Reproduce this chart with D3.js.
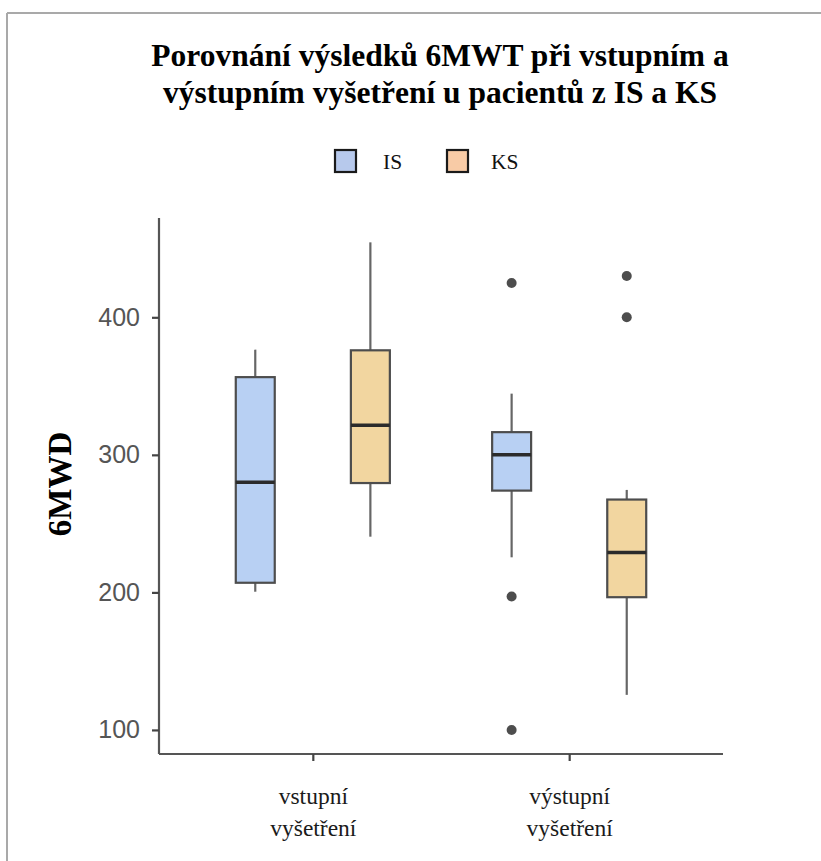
<!DOCTYPE html>
<html>
<head>
<meta charset="utf-8">
<script src="https://cdn.jsdelivr.net/npm/d3@7"></script>
<style>
  html, body { margin: 0; padding: 0; background: #fff; }
  svg { display: block; }
</style>
</head>
<body>
<svg id="chart" width="821" height="861"></svg>
<script>
// ---- Data ----
const categories = ["vstupní vyšetření", "výstupní vyšetření"];
const categoryLines = [["vstupní", "vyšetření"], ["výstupní", "vyšetření"]];
const groups = ["IS", "KS"];

// IS box statistics per category
const isLow  = [200.5, 225.5];
const isQ1   = [207,   274];
const isMed  = [280,   300];
const isQ3   = [356.5, 316.5];
const isHigh = [376.5, 344.5];
const isOutliers = [[], [425, 197, 100]];

// KS box statistics per category
const ksLow  = [240.5, 125.5];
const ksQ1   = [279.5, 196.5];
const ksMed  = [321.5, 229];
const ksQ3   = [376,   267.5];
const ksHigh = [454.5, 274.5];
const ksOutliers = [[], [430, 400]];

const yTicks = [100, 200, 300, 400];
const yDomain = [82.5, 472.2];

const titleLines = ["Porovnání výsledků 6MWT při vstupním a", "výstupním vyšetření u pacientů z IS a KS"];
const yTitle = "6MWD";

(function () {
// ---- Build table ----
const boxes = [];
categories.forEach((c, i) => {
  boxes.push({cat: c, grp: "IS", low: isLow[i], q1: isQ1[i], med: isMed[i], q3: isQ3[i], high: isHigh[i], out: isOutliers[i]});
  boxes.push({cat: c, grp: "KS", low: ksLow[i], q1: ksQ1[i], med: ksMed[i], q3: ksQ3[i], high: ksHigh[i], out: ksOutliers[i]});
});

const fillColor = d3.scaleOrdinal().domain(groups).range(["#b8d0f3", "#f2d6a0"]);
const legendColor = d3.scaleOrdinal().domain(groups).range(["#b7c9ec", "#f8cba6"]);

// ---- Layout ----
const svg = d3.select("#chart");
const pLeft = 159, pRight = 723, pTop = 218, pBottom = 754;

const x = d3.scalePoint().domain(categories).range([pLeft, pRight]).padding(0.6);
const y = d3.scaleLinear().domain(yDomain).range([pBottom, pTop]);

const step = x.step();
const boxW = step * 0.152;
const offset = g => (g === "IS" ? -1 : 1) * step * 0.2245;

// frame lines (top and left)
svg.append("line").attr("x1", 7).attr("x2", 821).attr("y1", 13).attr("y2", 13)
  .attr("stroke", "#a9a9a9").attr("stroke-width", 2);
svg.append("line").attr("x1", 7).attr("x2", 7).attr("y1", 13).attr("y2", 861)
  .attr("stroke", "#a9a9a9").attr("stroke-width", 2);

// Title
const title = svg.append("text")
  .attr("text-anchor", "middle")
  .attr("font-family", "'Liberation Serif', 'Times New Roman', serif")
  .attr("font-weight", "bold")
  .attr("font-size", 31.5)
  .attr("fill", "#000");
titleLines.forEach((t, i) => {
  title.append("tspan").attr("x", 440).attr("y", 66 + i * 37).text(t);
});

// Legend
const legendItems = [{g: "IS", kx: 335, tx: 383}, {g: "KS", kx: 447, tx: 491}];
const legend = svg.append("g");
legendItems.forEach(it => {
  legend.append("rect").attr("x", it.kx).attr("y", 150).attr("width", 21).attr("height", 22)
    .attr("fill", legendColor(it.g)).attr("stroke", "#1a1a1a").attr("stroke-width", 2.2);
  legend.append("text").attr("x", it.tx).attr("y", 168.5)
    .attr("font-family", "'Liberation Serif', 'Times New Roman', serif")
    .attr("font-size", 21.5).attr("fill", "#111").text(it.g);
});

// Axes
const yAxis = d3.axisLeft(y).tickValues(yTicks).tickSize(7).tickPadding(12).tickFormat(d3.format("d"));
const gy = svg.append("g").attr("transform", `translate(${pLeft},0)`).call(yAxis);
gy.select(".domain").attr("d", `M0,${pTop}V${pBottom}`).attr("stroke", "#555").attr("stroke-width", 2.2);
gy.selectAll(".tick line").attr("stroke", "#444").attr("stroke-width", 2.2);
gy.selectAll(".tick text")
  .attr("font-family", "'Liberation Sans', Arial, sans-serif")
  .attr("font-size", 25).attr("fill", "#555");

const xAxis = d3.axisBottom(x).tickSize(7).tickFormat("");
const gx = svg.append("g").attr("transform", `translate(0,${pBottom})`).call(xAxis);
gx.select(".domain").attr("d", `M${pLeft},0H${pRight}`).attr("stroke", "#555").attr("stroke-width", 2.2);
gx.selectAll(".tick line").attr("stroke", "#444").attr("stroke-width", 2.2);
gx.selectAll(".tick").each(function(d, i) {
  const t = d3.select(this).append("text")
    .attr("text-anchor", "middle")
    .attr("font-family", "'Liberation Serif', 'Times New Roman', serif")
    .attr("font-size", 23.5).attr("fill", "#1a1a1a");
  categoryLines[i].forEach((ln, j) => {
    t.append("tspan").attr("x", 0).attr("y", 50 + j * 32).text(ln);
  });
});

// Y title
svg.append("text")
  .attr("transform", `translate(71,484) rotate(-90)`)
  .attr("text-anchor", "middle")
  .attr("font-family", "'Liberation Serif', 'Times New Roman', serif")
  .attr("font-weight", "bold").attr("font-size", 33).attr("fill", "#000")
  .text(yTitle);

// Boxes
const bg = svg.append("g").selectAll("g").data(boxes).join("g")
  .attr("transform", d => `translate(${x(d.cat) + offset(d.grp)},0)`);

bg.append("line").attr("x1", 0).attr("x2", 0)
  .attr("y1", d => y(d.high)).attr("y2", d => y(d.q3))
  .attr("stroke", "#666").attr("stroke-width", 2.2);
bg.append("line").attr("x1", 0).attr("x2", 0)
  .attr("y1", d => y(d.q1)).attr("y2", d => y(d.low))
  .attr("stroke", "#666").attr("stroke-width", 2.2);
bg.append("rect")
  .attr("x", -boxW / 2).attr("width", boxW)
  .attr("y", d => y(d.q3)).attr("height", d => y(d.q1) - y(d.q3))
  .attr("fill", d => fillColor(d.grp)).attr("stroke", "#4d4d4d").attr("stroke-width", 2.2);
bg.append("line").attr("x1", -boxW / 2).attr("x2", boxW / 2)
  .attr("y1", d => y(d.med)).attr("y2", d => y(d.med))
  .attr("stroke", "#2b2b2b").attr("stroke-width", 3.5);
bg.selectAll("circle").data(d => d.out).join("circle")
  .attr("cx", 0).attr("cy", v => y(v)).attr("r", 5)
  .attr("fill", "#4d4d4d");
})();
</script>
</body>
</html>
